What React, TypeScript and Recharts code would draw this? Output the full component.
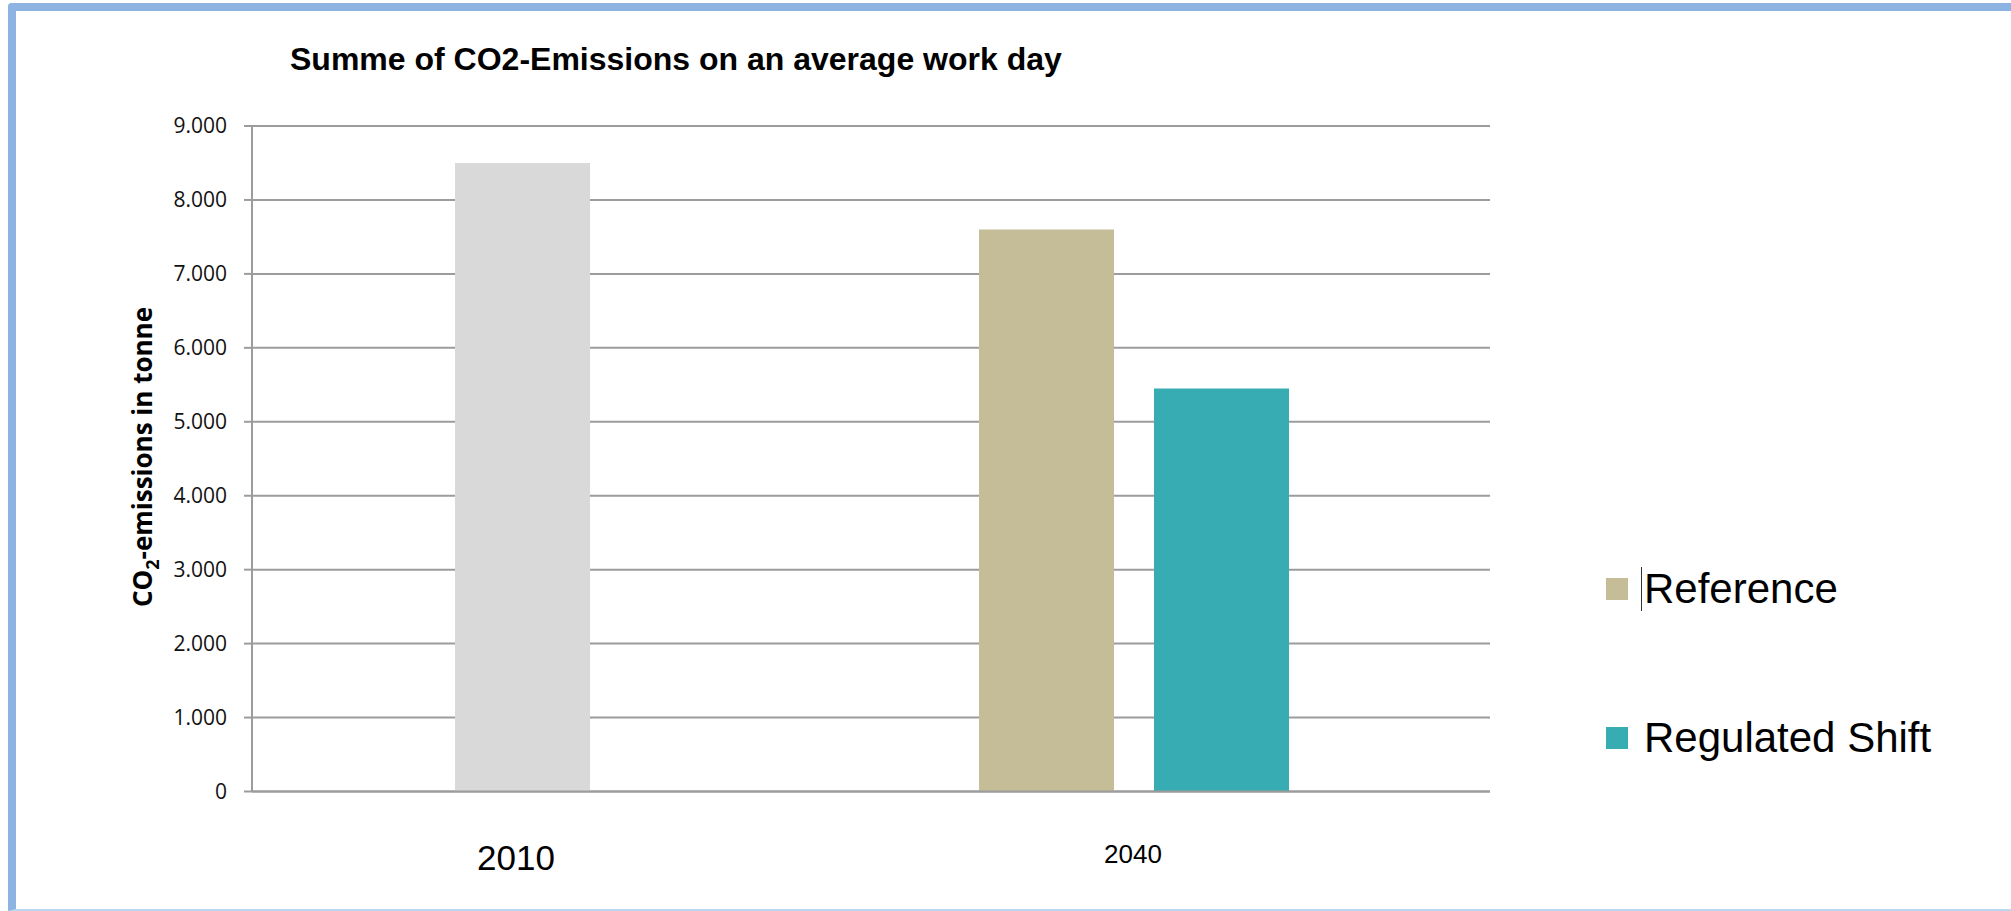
import React from 'react'
import {
  BarChart,
  Bar,
  XAxis,
  YAxis,
  CartesianGrid,
} from 'recharts'

// Average work day CO2 emissions (tonnes)
const categories = ['2010', '2040']
const baseYear = [8500, null]
const referenceScenario = [null, 7600]
const regulatedShift = [null, 5450]
const yTicks = [0, 1000, 2000, 3000, 4000, 5000, 6000, 7000, 8000, 9000]

const COLORS = {
  base: '#d9d9d9',
  reference: '#c4bd97',
  regulated: '#37adb3',
  grid: '#9c9c9c',
  frame: '#8db3e2',
}

// only the two scenarios get a legend entry
const legendItems = [
  { name: 'Reference', color: COLORS.reference },
  { name: 'Regulated Shift', color: COLORS.regulated },
]

const chartData = categories.map((category, i) => ({
  category,
  base: baseYear[i],
  reference: referenceScenario[i],
  regulated: regulatedShift[i],
}))

// per-label look of the category axis
const xLabelStyle: Record<string, { fontSize: number; dx: number; dy: number }> = {
  '2010': { fontSize: 35, dx: -94, dy: 70 },
  '2040': { fontSize: 26, dx: -1, dy: 63 },
}

function formatThousands(value: number): string {
  return String(value).replace(/\B(?=(\d{3})+(?!\d))/g, '.')
}

function CategoryTick({ x, y, payload }: any) {
  const style = xLabelStyle[payload.value] || { fontSize: 26, dx: 0, dy: 63 }
  return (
    <text
      x={x + style.dx}
      y={y + style.dy}
      textAnchor="middle"
      fontFamily="'Liberation Sans', Arial, sans-serif"
      fontSize={style.fontSize}
      fill="#000"
    >
      {payload.value}
    </text>
  )
}

function AxisTitle() {
  return (
    <text
      transform="translate(152,457) rotate(-90)"
      textAnchor="middle"
      fontFamily="'Open Sans', sans-serif"
      fontWeight={700}
      fontSize={26}
      fill="#000"
    >
      <tspan>CO</tspan>
      <tspan dy={7} fontSize={18}>
        2
      </tspan>
      <tspan dy={-7}>-emissions in tonne</tspan>
    </text>
  )
}

function SeriesLegend() {
  return (
    <div style={{ position: 'absolute', left: 1606, top: 567 }}>
      {legendItems.map((item, i) => (
        <div
          key={item.name}
          style={{
            display: 'flex',
            alignItems: 'center',
            height: 44,
            marginBottom: i === 0 ? 105 : 0,
          }}
        >
          <span
            style={{
              width: 22,
              height: 22,
              background: item.color,
              marginRight: 13,
            }}
          />
          <span
            style={{
              fontFamily: "'Liberation Sans', Arial, sans-serif",
              fontSize: 42,
              lineHeight: '44px',
              color: '#000',
              borderLeft: i === 0 ? '1.5px solid #333' : '1.5px solid transparent',
              paddingLeft: 2,
              whiteSpace: 'nowrap',
            }}
          >
            {item.name}
          </span>
        </div>
      ))}
    </div>
  )
}

export default function App() {
  return (
    <div
      style={{
        position: 'absolute',
        left: 0,
        top: 0,
        width: 2011,
        height: 911,
        background: '#fff',
        overflow: 'hidden',
      }}
    >
      {/* Frame */}
      <div
        style={{
          position: 'absolute',
          left: 8,
          top: 3,
          right: -10,
          bottom: 0,
          borderTop: `8px solid ${COLORS.frame}`,
          borderLeft: `8px solid ${COLORS.frame}`,
          borderBottom: '2px solid #bdd7ee',
          borderTopLeftRadius: 4,
        }}
      />

      {/* Title */}
      <div
        style={{
          position: 'absolute',
          left: 290,
          top: 43,
          fontFamily: "'Liberation Sans', Arial, sans-serif",
          fontWeight: 700,
          fontSize: 32,
          lineHeight: '32px',
          color: '#000',
          whiteSpace: 'nowrap',
        }}
      >
        Summe of CO2-Emissions on an average work day
      </div>

      <div style={{ position: 'absolute', left: 0, top: 0 }}>
        <BarChart
          width={2011}
          height={911}
          data={chartData}
          margin={{ top: 126, right: 521, bottom: 0, left: 0 }}
          barSize={135}
          barGap={40}
        >
          <CartesianGrid
            vertical={false}
            stroke={COLORS.grid}
            strokeWidth={2}
          />
          <XAxis
            dataKey="category"
            height={119.5}
            padding={{ left: 96, right: 94 }}
            tickLine={false}
            axisLine={{ stroke: COLORS.grid, strokeWidth: 2 }}
            tick={<CategoryTick />}
            interval={0}
          />
          <YAxis
            width={252}
            domain={[0, 9000]}
            ticks={yTicks}
            interval={0}
            tickFormatter={formatThousands}
            tickSize={8}
            tickMargin={17}
            tickLine={{ stroke: COLORS.grid, strokeWidth: 2 }}
            axisLine={{ stroke: COLORS.grid, strokeWidth: 2 }}
            tick={{
              fontFamily: "'Open Sans', sans-serif",
              fontSize: 21,
              fill: '#111',
            }}
            label={<AxisTitle />}
          />
          <Bar
            dataKey="base"
            name="2010"
            stackId="a"
            fill={COLORS.base}
            isAnimationActive={false}
          />
          <Bar
            dataKey="reference"
            name="Reference"
            stackId="a"
            fill={COLORS.reference}
            isAnimationActive={false}
          />
          <Bar
            dataKey="regulated"
            name="Regulated Shift"
            stackId="b"
            fill={COLORS.regulated}
            isAnimationActive={false}
          />
        </BarChart>
      </div>

      <SeriesLegend />
    </div>
  )
}
